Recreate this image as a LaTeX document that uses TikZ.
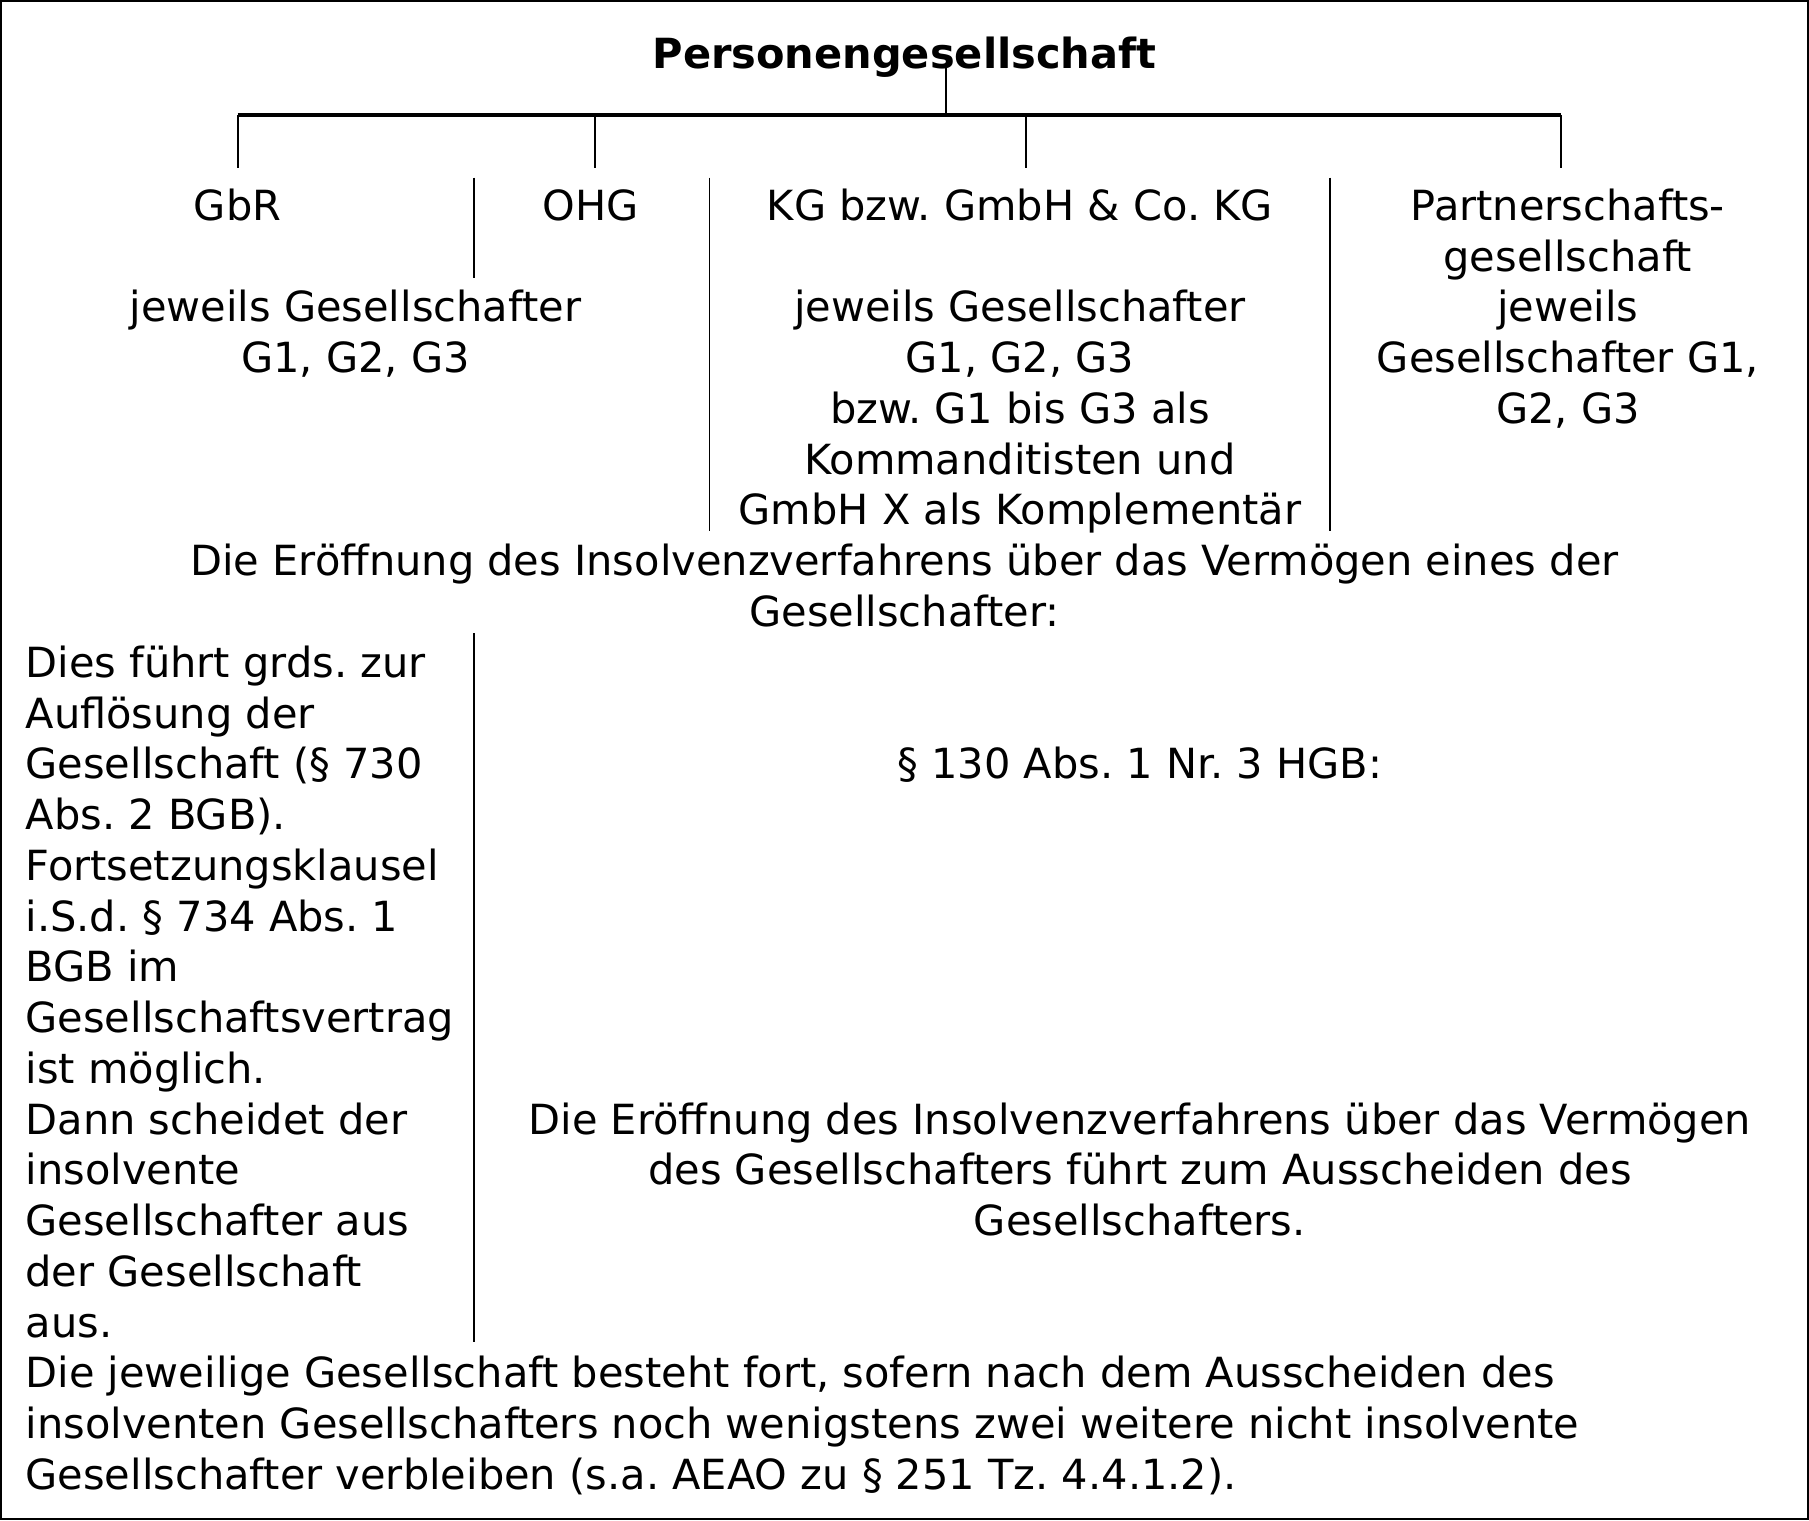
\documentclass[tikz,border=0pt]{standalone}
\usepackage{fontspec}
\setmainfont{DejaVu Sans}
\frenchspacing
\tikzset{
  txt/.style={inner sep=0pt, font=\fontsize{36}{44}\selectfont, anchor=base, align=center},
  ltxt/.style={inner sep=0pt, font=\fontsize{36}{44}\selectfont, anchor=base west, align=left},
  ttl/.style={inner sep=0pt, font=\fontsize{36}{44}\selectfont\bfseries, anchor=base},
  thin/.style={line width=1.5pt},
  bar/.style={line width=3pt},
  frame/.style={line width=2pt}
}
\begin{document}
\begin{tikzpicture}[x=1pt,y=-1pt]
\useasboundingbox (0,0) rectangle (1568,1317.5);
\draw[frame] (1,1) rectangle (1567,1316.5);
% title
\node[ttl] (title) at (784,59) {Personengesellschaft};
% tree connectors
\coordinate (stemtop) at (820,59);
\coordinate (stembot) at (820,99.5);
\coordinate (barL) at (206,99.5);
\coordinate (barB) at (516,99.5);
\coordinate (barC) at (889,99.5);
\coordinate (barR) at (1353,99.5);
\coordinate (dA) at (206,146);
\coordinate (dB) at (516,146);
\coordinate (dC) at (889,146);
\coordinate (dD) at (1353,146);
\draw[thin] (stemtop) -- (stembot);
\draw[bar] (barL) -- (barR);
\draw[thin] (barL) -- (dA);
\draw[thin] (barB) -- (dB);
\draw[thin] (barC) -- (dC);
\draw[thin] (barR) -- (dD);
% separators
\coordinate (s1t) at (411,154); \coordinate (s1b) at (411,241);
\coordinate (s2t) at (615,154); \coordinate (s2b) at (615,460);
\coordinate (s3t) at (1153,154); \coordinate (s3b) at (1153,460);
\coordinate (s4t) at (411,549); \coordinate (s4b) at (411,1163);
\draw[thin] (s1t) -- (s1b);
\draw[thin] (s2t) -- (s2b);
\draw[thin] (s3t) -- (s3b);
\draw[thin] (s4t) -- (s4b);
% texts (multi-line nodes are anchored at the baseline of their last line)
\node[txt] (gbr) at (206,191) {GbR};
\node[txt] (ohg) at (512,191) {OHG};
\node[txt] (kg) at (884,191) {KG bzw. GmbH \& Co. KG};
\node[txt] (pg) at (1359,367) {Partnerschafts-\\gesellschaft\\jeweils\\Gesellschafter G1,\\G2, G3};
\node[txt] (gbrg) at (308,323) {jeweils Gesellschafter\\G1, G2, G3};
\node[txt] (kgg) at (884,455) {jeweils Gesellschafter\\G1, G2, G3\\bzw. G1 bis G3 als\\Kommanditisten und\\GmbH X als Komplementär};
\node[txt] (open) at (784,543) {Die Eröffnung des Insolvenzverfahrens über das Vermögen eines der\\Gesellschafter:};
\node[ltxt] (left) at (22,1159) {Dies führt grds. zur\\Auflösung der\\Gesellschaft (§ 730\\Abs. 2 BGB).\\Fortsetzungsklausel\\i.S.d. § 734 Abs. 1\\BGB im\\Gesellschaftsvertrag\\ist möglich.\\Dann scheidet der\\insolvente\\Gesellschafter aus\\der Gesellschaft\\aus.};
\node[txt] (hgb) at (988,675) {§ 130 Abs. 1 Nr. 3 HGB:};
\node[txt] (aus) at (988,1071) {Die Eröffnung des Insolvenzverfahrens über das Vermögen\\des Gesellschafters führt zum Ausscheiden des\\Gesellschafters.};
\node[ltxt] (fort) at (22,1291) {Die jeweilige Gesellschaft besteht fort, sofern nach dem Ausscheiden des\\insolventen Gesellschafters noch wenigstens zwei weitere nicht insolvente\\Gesellschafter verbleiben (s.a. AEAO zu § 251 Tz. 4.4.1.2).};
\end{tikzpicture}
\end{document}
